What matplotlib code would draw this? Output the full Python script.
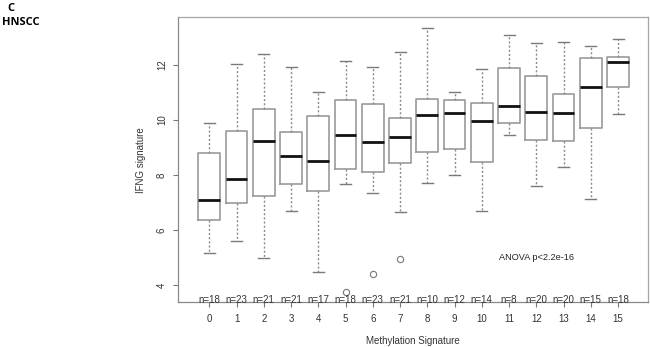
import matplotlib
matplotlib.use('Agg')
import matplotlib.pyplot as plt

plt.rcParams['font.family'] = ['Liberation Sans', 'DejaVu Sans']

# values (IFNG signature per methylation signature group)
groups = list(range(16))
whislo = [5.15, 5.59, 4.97, 6.70, 4.48, 7.67, 7.33, 6.64, 7.71, 8.01, 6.69, 9.45, 7.58, 8.30, 7.12, 10.21]
q1 = [6.36, 6.98, 7.25, 7.67, 7.43, 8.22, 8.12, 8.42, 8.82, 8.96, 8.46, 9.89, 9.26, 9.22, 9.71, 11.21]
med = [7.09, 7.85, 9.24, 8.68, 8.51, 9.47, 9.20, 9.38, 10.18, 10.25, 9.96, 10.50, 10.30, 10.25, 11.20, 12.11]
q3 = [8.81, 9.60, 10.40, 9.56, 10.16, 10.73, 10.59, 10.06, 10.76, 10.74, 10.63, 11.90, 11.61, 10.93, 12.27, 12.29]
whishi = [9.90, 12.02, 12.39, 11.92, 11.01, 12.16, 11.94, 12.47, 13.33, 11.02, 11.85, 13.10, 12.81, 12.84, 12.68, 12.95]
outliers = [[], [], [], [], [], [3.75], [4.39], [4.93], [], [], [], [], [], [], [], []]
counts = [18, 23, 21, 21, 17, 18, 23, 21, 10, 12, 14, 8, 20, 20, 15, 18]

stats = []
for i in range(len(groups)):
    stats.append({'whislo': whislo[i], 'q1': q1[i], 'med': med[i], 'q3': q3[i],
                  'whishi': whishi[i], 'fliers': outliers[i]})

fig = plt.figure(figsize=(6.5, 3.47), dpi=100)
ax = fig.add_axes([0.2738, 0.1297, 0.7232, 0.8203])

ax.bxp(stats, positions=groups, widths=0.8, patch_artist=False,
       boxprops=dict(color='#9a9a9a', linewidth=1.2),
       whiskerprops=dict(color='#8a8a8a', linewidth=1.0, linestyle=(0, (1.5, 1.5))),
       capprops=dict(color='#7a7a7a', linewidth=1.0),
       capwidths=0.4,
       medianprops=dict(color='#111111', linewidth=2.0),
       flierprops=dict(marker='o', markerfacecolor='none', markeredgecolor='#777777',
                       markersize=4.5, markeredgewidth=0.8))

ax.set_xlim(-1.15, 16.1)
ax.set_ylim(3.38, 13.73)
ax.set_xticks(groups)
ax.set_xticklabels([str(g) for g in groups], fontsize=7, color='#333333')
ax.set_yticks([4, 6, 8, 10, 12])
ax.set_yticklabels(['4', '6', '8', '10', '12'], fontsize=7, color='#333333',
                   rotation=90, va='center')
ax.tick_params(axis='both', direction='out', length=3.5, width=0.8, color='#777777')
ax.tick_params(axis='x', pad=5.5)
ax.tick_params(axis='y', pad=4.5)

for side in ['top', 'right']:
    ax.spines[side].set_color('#a5a5a5')
    ax.spines[side].set_linewidth(0.9)
for side in ['left', 'bottom']:
    ax.spines[side].set_color('#888888')
    ax.spines[side].set_linewidth(0.9)

# sample sizes sitting on the bottom axis
for g, n in zip(groups, counts):
    ax.text(g, 3.47, 'n=' + str(n), ha='center', va='center', fontsize=7, color='#333333')

ax.text(10.64, 4.99, 'ANOVA p<2.2e-16', ha='left', va='center', fontsize=6.6, color='#222222')

ax.set_ylabel('IFNG signature', fontsize=7, color='#333333', labelpad=8)
ax.set_xlabel('Methylation Signature', fontsize=7, color='#333333', labelpad=8)

fig.text(0.012, 0.99, 'C', fontsize=8, fontweight='bold', family=['Open Sans', 'DejaVu Sans'], va='top')
fig.text(0.003, 0.952, 'HNSCC', fontsize=8, fontweight='bold', family=['Open Sans', 'DejaVu Sans'], va='top')

fig.savefig('out.png', dpi=100)
